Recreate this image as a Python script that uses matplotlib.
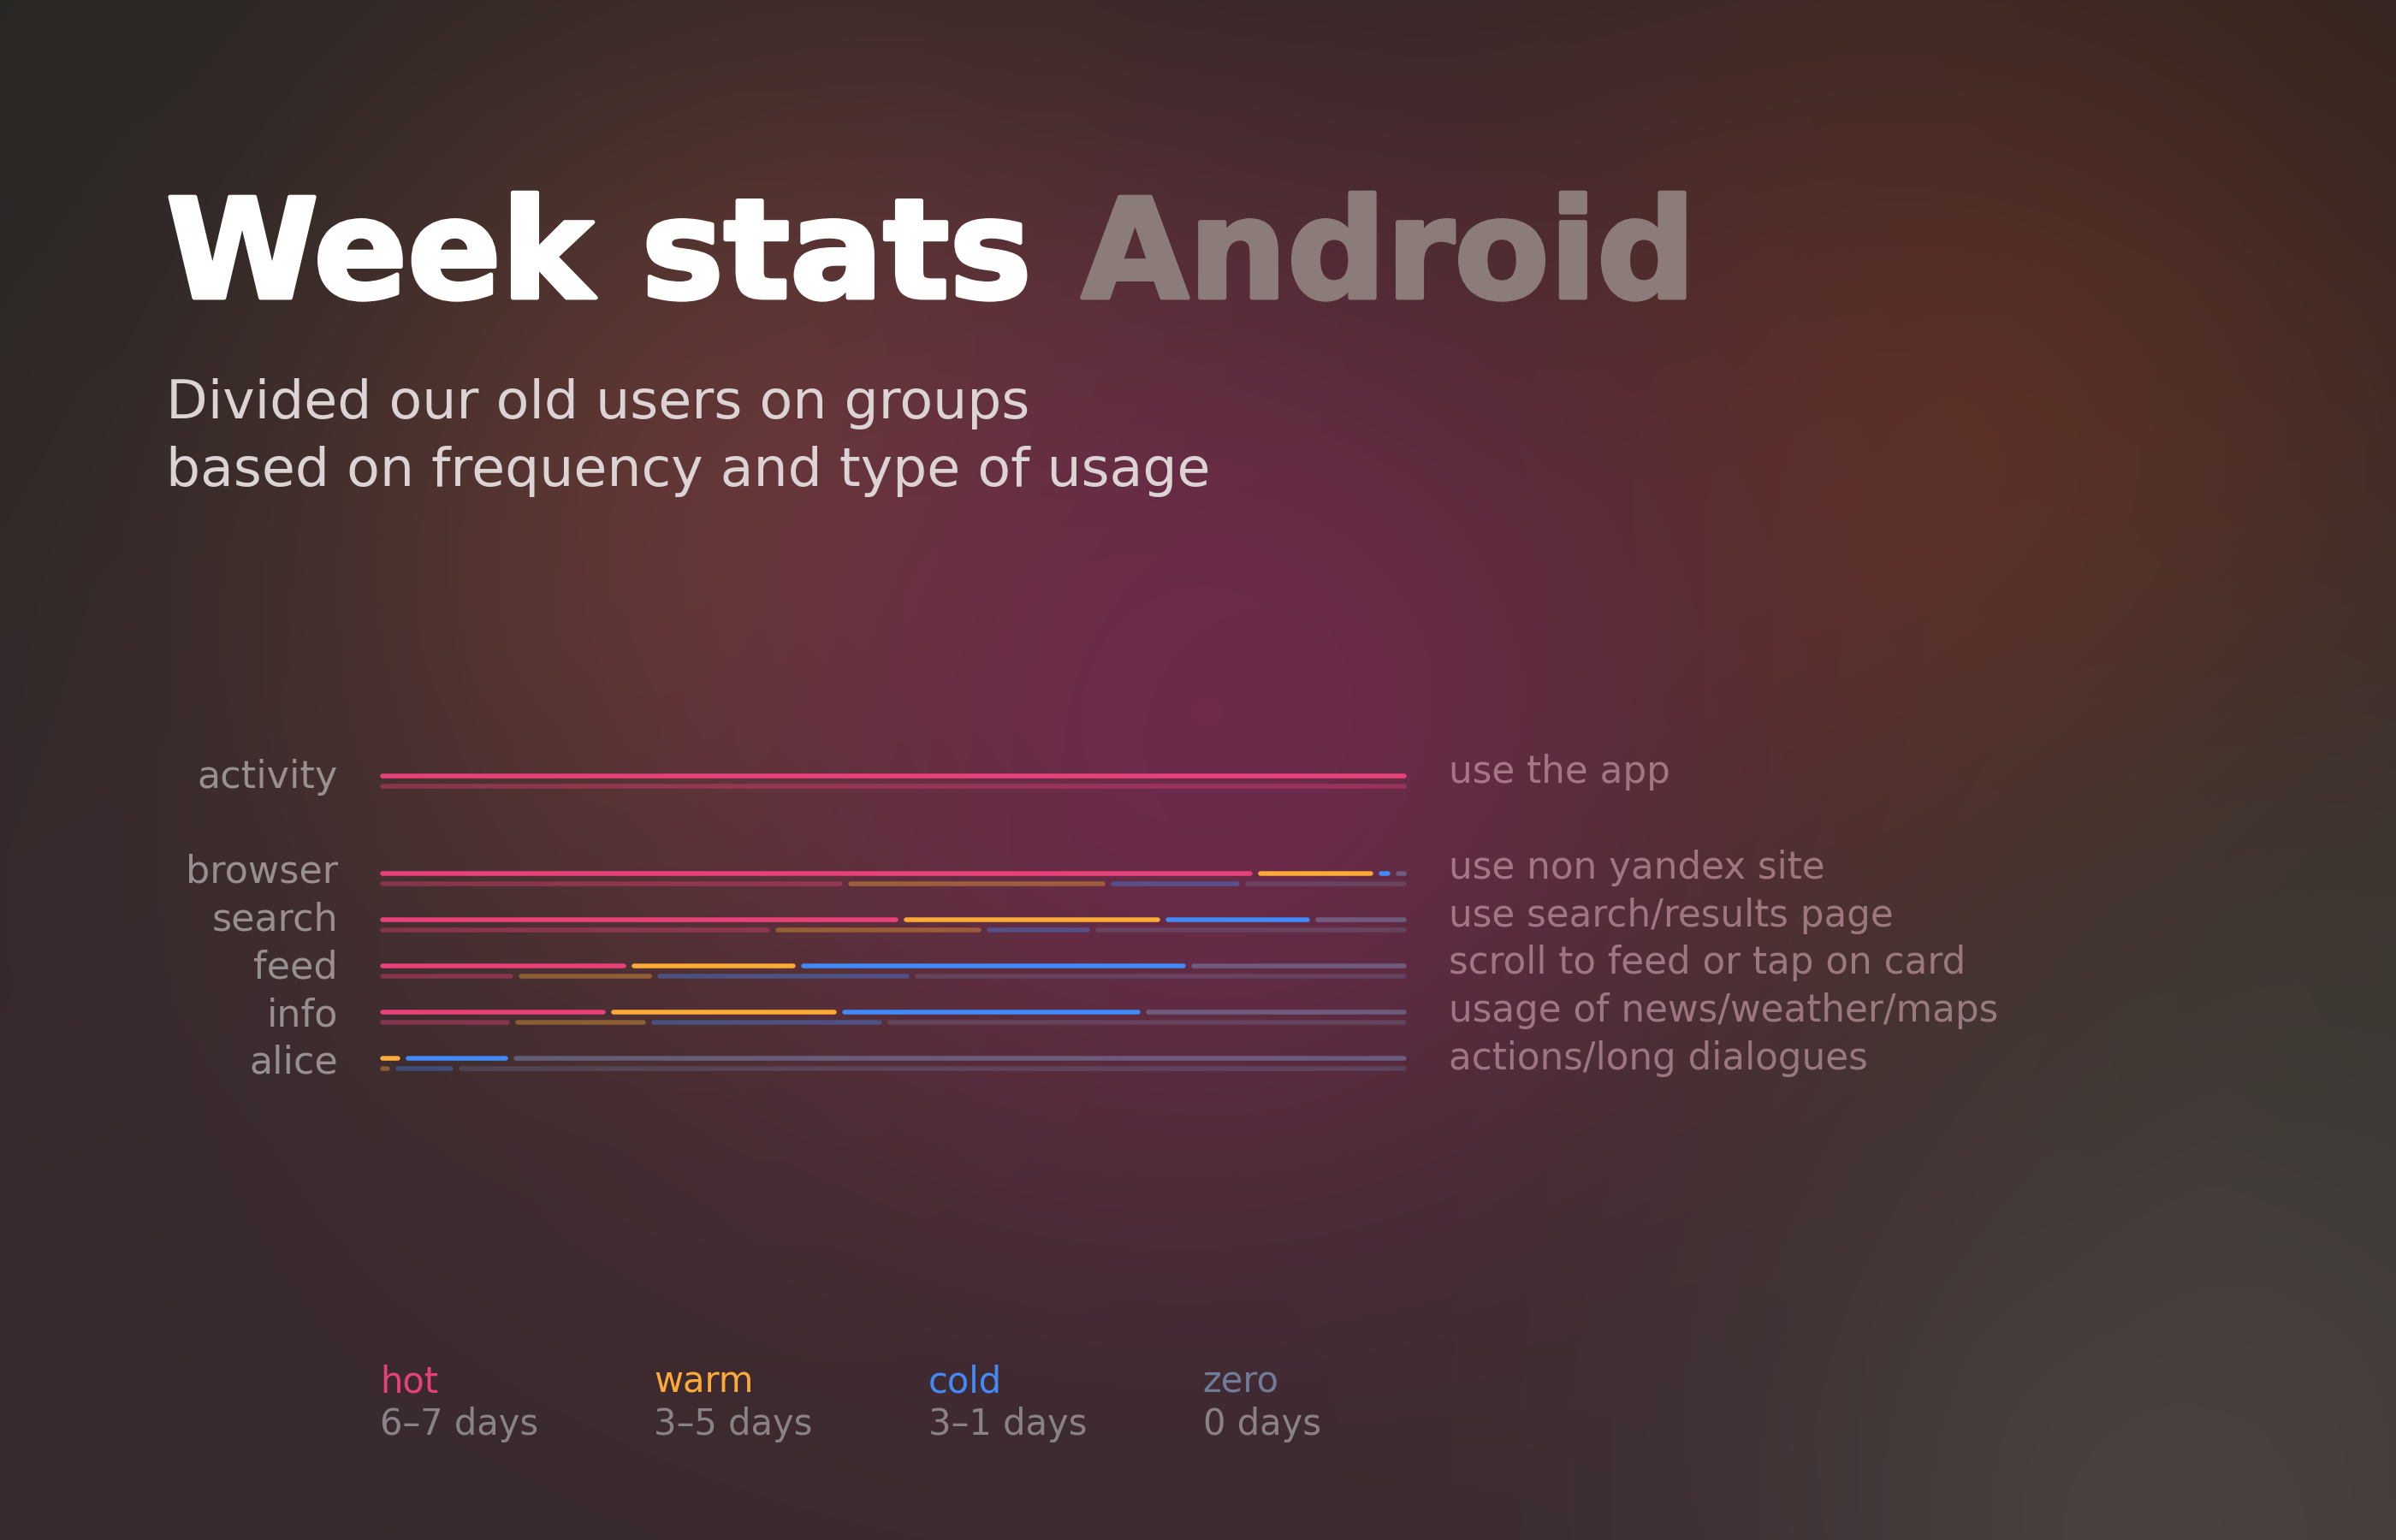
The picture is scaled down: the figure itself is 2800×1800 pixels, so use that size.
import numpy as np
import matplotlib.pyplot as plt
import matplotlib.patheffects as pe

plt.rcParams['font.family'] = ['DejaVu Sans']

W, H = 2800, 1800

grupos = ['activity', 'browser', 'search', 'feed', 'info', 'alice']
descripciones = ['use the app', 'use non yandex site', 'use search/results page',
                 'scroll to feed or tap on card', 'usage of news/weather/maps',
                 'actions/long dialogues']

# % de usuarios por grupo (linea de arriba = semana actual, abajo = anterior)
hot_actual = [100, 85.5, 51.0, 24.5, 22.5, 0]
warm_actual = [0, 11.8, 25.5, 16.5, 22.5, 2.5]
cold_actual = [0, 1.6, 14.6, 38.0, 29.6, 10.5]
zero_actual = [0, 1.1, 8.9, 21.0, 25.4, 87.0]

hot_prev = [100, 45.6, 38.5, 13.5, 13.2, 0]
warm_prev = [0, 25.6, 20.6, 13.5, 13.2, 1.5]
cold_prev = [0, 13.1, 10.6, 25.1, 23.0, 6.2]
zero_prev = [0, 15.7, 30.3, 47.9, 50.6, 92.3]

categorias = ['hot', 'warm', 'cold', 'zero']
rangos = ['6–7 days', '3–5 days', '3–1 days', '0 days']
colores = ['#E8417A', '#FDAB38', '#428AF7', '#7D84B0']
alpha_actual = [1, 1, 1, 0.55]
alpha_prev = [0.4, 0.38, 0.38, 0.27]


def fondo():
    yy, xx = np.mgrid[0:H:4, 0:W:4]
    img = np.ones(yy.shape + (3,)) * np.array([56, 42, 46]) / 255
    # (cx, cy, sigma, color, fuerza) - primero las zonas oscuras, luego los brillos
    manchas = [
        (0, 0, 800, (40, 39, 37), 1.0),
        (1200, -300, 620, (40, 35, 33), 0.97),
        (2800, 0, 550, (46, 35, 30), 0.85),
        (300, 1700, 650, (58, 42, 48), 0.6),
        (950, 620, 420, (104, 62, 50), 0.9),
        (2280, 600, 420, (100, 50, 36), 0.85),
        (1430, 840, 400, (112, 42, 78), 0.92),
        (2800, 1300, 420, (58, 57, 50), 0.8),
        (2550, 1800, 380, (80, 72, 70), 0.7),
    ]
    for cx, cy, s, col, k in manchas:
        w = k * np.exp(-((xx - cx) ** 2 + (yy - cy) ** 2) / (2 * s * s))
        img = img * (1 - w[..., None]) + np.array(col) / 255 * w[..., None]
    return img


fig = plt.figure(figsize=(W / 100, H / 100), dpi=100)
ax = fig.add_axes([0, 0, 1, 1])
ax.imshow(fondo(), extent=(0, W, H, 0), interpolation='bilinear', aspect='auto')
ax.set_xlim(0, W)
ax.set_ylim(H, 0)
ax.axis('off')

# titulo (trazo extra para que pese como el original)
t1 = ax.text(194, 348, 'Week stats', color='white', fontsize=116.4,
             fontweight='bold', va='baseline',
             path_effects=[pe.withStroke(linewidth=3.5, foreground='white')])
ax.annotate('Android', xy=(1, 0), xycoords=t1, xytext=(58, 0),
            textcoords='offset pixels', color='#8c7c79', fontsize=116.4,
            fontweight='bold', va='bottom',
            path_effects=[pe.withStroke(linewidth=3.5, foreground='#8c7c79')])

ax.text(194, 489, 'Divided our old users on groups', color='#dcd4d4',
        fontsize=45.5, va='baseline')
ax.text(194, 568, 'based on frequency and type of usage', color='#dcd4d4',
        fontsize=45.5, va='baseline')

# barras
ax_b = fig.add_axes([444 / W, 1 - 1270 / H, 1200 / W, 390 / H])
ax_b.set_xlim(0, 100)
ax_b.set_ylim(6.728, -0.494)
ax_b.axis('off')

px = 100 / 1200
lw_px = 5.5
r = lw_px / 2 * px
gap = 6.5 * px


def dibujar_fila(y, valores, alphas):
    ultimo = max(j for j, v in enumerate(valores) if v > 0)
    x0 = 0
    for j, v in enumerate(valores):
        if v <= 0:
            continue
        x1 = x0 + v
        fin = x1 if j == ultimo else x1 - gap
        a, b = x0 + r, fin - r
        if b < a:
            a = b = (x0 + fin) / 2
        ax_b.plot([a, b], [y, y], color=colores[j], alpha=alphas[j],
                  lw=lw_px * 0.72, solid_capstyle='round')
        x0 = x1


for i in range(len(grupos)):
    y = i + (1.11 if i > 0 else 0)
    dibujar_fila(y, [hot_actual[i], warm_actual[i], cold_actual[i], zero_actual[i]], alpha_actual)
    dibujar_fila(y + 12 / 54, [hot_prev[i], warm_prev[i], cold_prev[i], zero_prev[i]], alpha_prev)

# etiquetas
for i, (g, d) in enumerate(zip(grupos, descripciones)):
    yl = 920.7 if i == 0 else 1031.7 + 55.8 * (i - 1)
    yr = 915 if i == 0 else 1026.7 + 55.8 * (i - 1)
    ax.text(395, yl, g, color='white', alpha=0.47, fontsize=32,
            ha='right', va='baseline')
    ax.text(1693, yr, d, color='#f4c6d4', alpha=0.48, fontsize=31.4,
            ha='left', va='baseline')

# leyenda
for k, (c, rg) in enumerate(zip(categorias, rangos)):
    x = 444 + 320.5 * k
    col = colores[k] if k < 3 else '#6F7B98'
    ax.text(x, 1627, c, color=col, fontsize=30, va='baseline')
    ax.text(x, 1677, rg, color='#8a8286', fontsize=30, va='baseline')

fig.savefig('out.png', dpi=100)
